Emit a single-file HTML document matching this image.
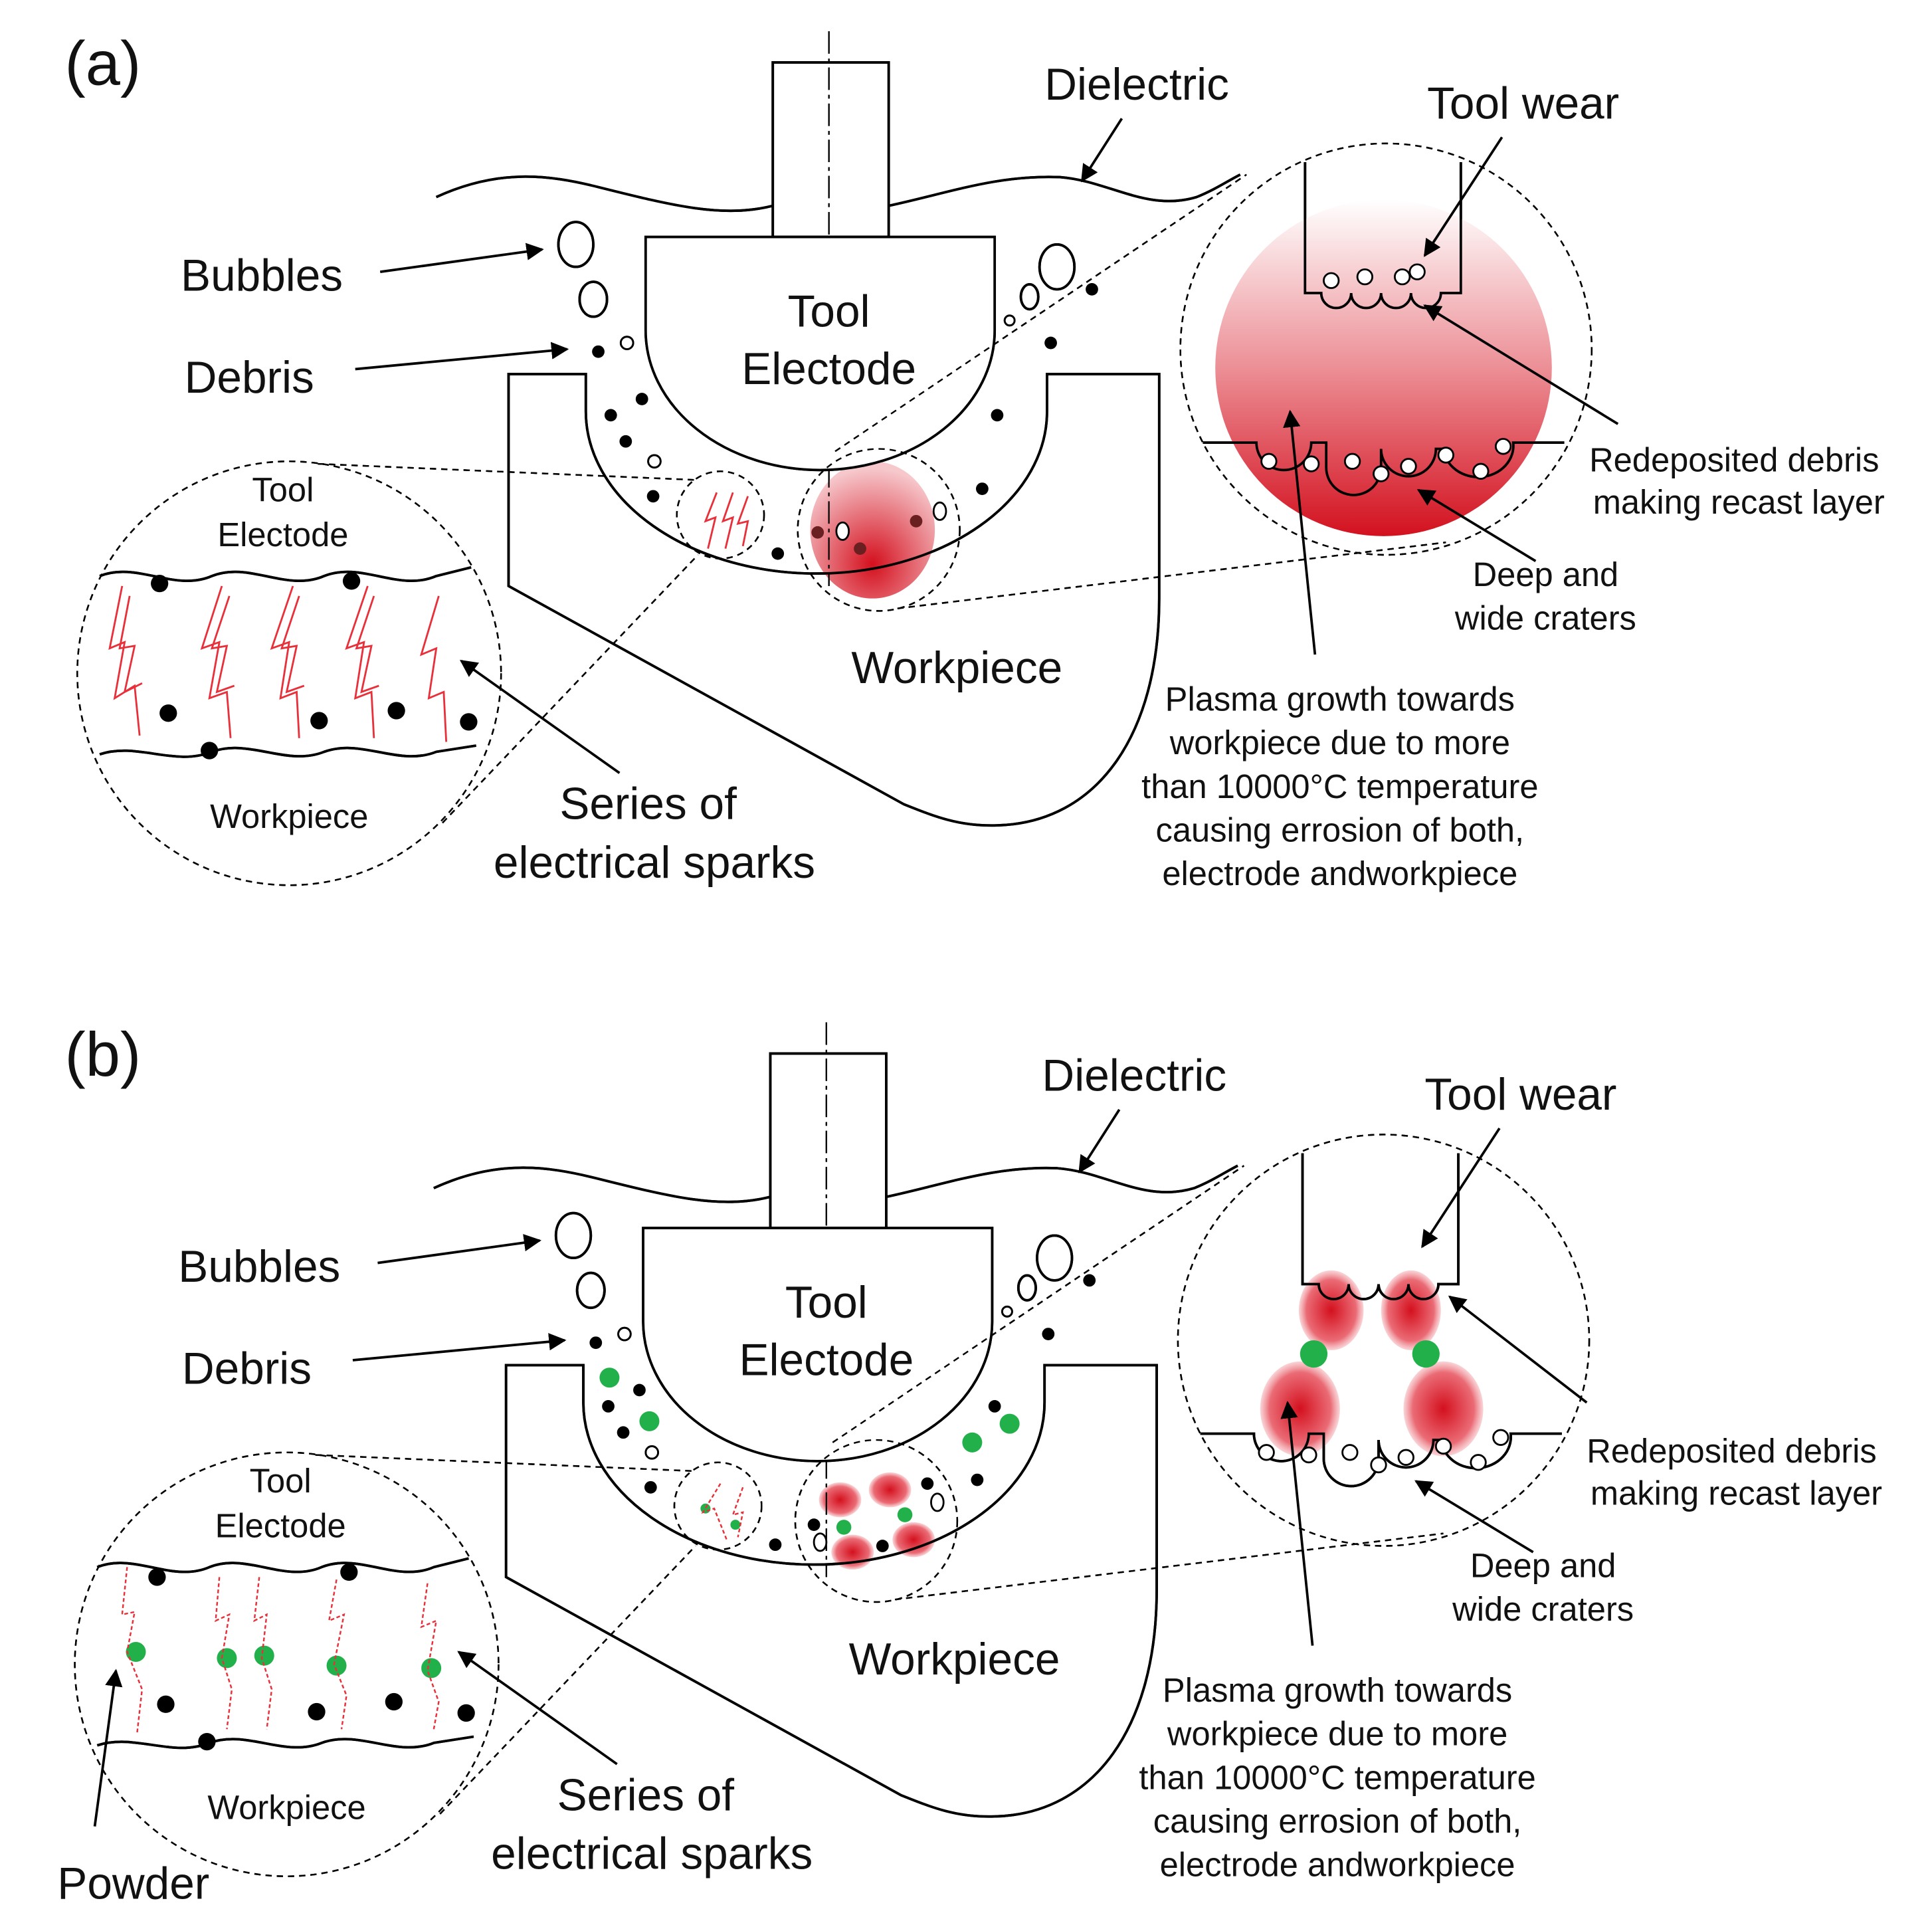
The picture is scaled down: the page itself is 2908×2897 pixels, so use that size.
<!DOCTYPE html>
<html><head><meta charset="utf-8"><style>
html,body{margin:0;padding:0;background:#fff;}
svg{display:block;}
text{font-family:"Liberation Sans",Arial,sans-serif;fill:#111;}
</style></head><body>
<svg width="2908" height="2897" viewBox="0 0 1550 1544" xmlns="http://www.w3.org/2000/svg">
<defs>
<marker id="ah" viewBox="0 0 10 10" refX="9" refY="5" markerWidth="7" markerHeight="7" orient="auto-start-reverse"><path d="M0,0 L10,5 L0,10 Z" fill="#000"/></marker>
<radialGradient id="rs" cx="0.5" cy="0.75" r="0.7"><stop offset="0" stop-color="#d4101e"/><stop offset="1" stop-color="#f6c8cc"/></radialGradient>
<linearGradient id="rb" x1="0" y1="0" x2="0" y2="1"><stop offset="0" stop-color="#ffffff"/><stop offset="0.5" stop-color="#ec8f96"/><stop offset="1" stop-color="#d3111f"/></linearGradient>
<radialGradient id="blob" cx="0.5" cy="0.5" r="0.55"><stop offset="0" stop-color="#d4101e"/><stop offset="0.7" stop-color="#ea6b75"/><stop offset="1" stop-color="#fde9ea" stop-opacity="0.6"/></radialGradient>
<g id="common" fill="none" stroke="#000" stroke-width="2">
  <line x1="665" y1="25" x2="665" y2="470" stroke-dasharray="18,4,3,4" stroke-width="1.2"/>
  <rect x="620" y="50" width="93" height="140" fill="none"/>
  <path d="M350,158 C400,135 440,140 480,150 C540,165 580,175 620,165 M713,165 C760,155 800,140 850,142 C890,145 920,170 960,158 C975,152 985,145 995,140"/>
  <path d="M518,190 H798 V265 A140,112 0 0 1 518,265 Z" fill="#fff"/>
  <path d="M408,300 H470 V330 A185,130 0 0 0 840,330 V300 H930 V480 C930,590 880,660 800,662 C770,663 750,655 725,645 L408,470 Z"/>
  <ellipse cx="462" cy="196" rx="14" ry="18"/><ellipse cx="476" cy="240" rx="11" ry="14"/>
  <circle cx="503" cy="275" r="5" stroke-width="1.5"/><circle cx="525" cy="370" r="5" stroke-width="1.5"/>
  <ellipse cx="848" cy="214" rx="14" ry="18"/><ellipse cx="826" cy="238" rx="7" ry="10"/><circle cx="810" cy="257" r="4" stroke-width="1.5"/>
  <g stroke="#000" stroke-width="1.3" stroke-dasharray="5,4">
    <circle cx="578" cy="413" r="35"/><circle cx="705" cy="425" r="65"/>
    <circle cx="232" cy="540" r="170"/><circle cx="1112" cy="280" r="165"/>
    <line x1="255" y1="372" x2="560" y2="385"/><line x1="355" y1="660" x2="560" y2="445"/>
    <line x1="670" y1="362" x2="1000" y2="140"/><line x1="720" y1="488" x2="1160" y2="435"/>
  </g>
  <path d="M80,462 C110,450 140,475 170,462 C200,450 230,475 260,462 C290,450 320,475 350,462 L378,455"/>
  <path d="M80,605 C110,595 140,615 170,603 C200,592 230,615 260,603 C290,592 320,615 350,603 L382,598"/>
  <path d="M1047,130 V235 H1060 A12,12 0 0 0 1084,235 A12,12 0 0 0 1108,235 A12,12 0 0 0 1132,235 A12,12 0 0 0 1156,235 H1172 V130"/>
  <path d="M965,355 H1008 A22,22 0 0 0 1052,355 H1064 V375 A22,22 0 0 0 1108,375 V360 A22,22 0 0 0 1152,360 H1158 A28,25 0 0 0 1214,355 H1255"/>
</g>
</defs>

<!-- Panel A -->
<text x="52" y="68" font-size="50">(a)</text>
<use href="#common"/>
<ellipse cx="700" cy="425" rx="50" ry="55" fill="url(#rs)"/>
<circle cx="1110" cy="295" r="135" fill="url(#rb)"/>
<use href="#common"/>
<g fill="#000">
<circle cx="480" cy="282" r="5"/><circle cx="490" cy="333" r="5"/><circle cx="515" cy="320" r="5"/><circle cx="502" cy="354" r="5"/><circle cx="524" cy="398" r="5"/>
<circle cx="624" cy="444" r="5"/><circle cx="788" cy="392" r="5"/><circle cx="800" cy="333" r="5"/><circle cx="843" cy="275" r="5"/><circle cx="876" cy="232" r="5"/>
<circle cx="128" cy="468" r="7"/><circle cx="282" cy="466" r="7"/><circle cx="135" cy="572" r="7"/><circle cx="168" cy="602" r="7"/><circle cx="256" cy="578" r="7"/><circle cx="318" cy="570" r="7"/><circle cx="376" cy="579" r="7"/>
</g>
<g fill="#6a2020"><circle cx="656" cy="427" r="5"/><circle cx="690" cy="440" r="5"/><circle cx="735" cy="418" r="5"/></g>
<g fill="#fff" stroke="#000" stroke-width="1.5"><ellipse cx="676" cy="426" rx="5" ry="7"/><ellipse cx="754" cy="410" rx="5" ry="7"/>
<circle cx="1068" cy="225" r="6"/><circle cx="1095" cy="222" r="6"/><circle cx="1125" cy="222" r="6"/><circle cx="1137" cy="218" r="6"/>
<circle cx="1018" cy="370" r="6"/><circle cx="1052" cy="372" r="6"/><circle cx="1085" cy="370" r="6"/><circle cx="1108" cy="380" r="6"/><circle cx="1130" cy="374" r="6"/><circle cx="1160" cy="365" r="6"/><circle cx="1188" cy="378" r="6"/><circle cx="1206" cy="358" r="6"/></g>
<g fill="none" stroke="#e8303a" stroke-width="1.5">
<path d="M98,470 L88,520 L100,515 L92,560 L108,550 L112,590 M104,478 L96,520 L108,518 L100,555 L114,548"/>
<path d="M178,470 L162,520 L176,515 L168,560 L182,555 L185,592 M184,478 L170,520 L182,518 L174,555 L188,550"/>
<path d="M235,470 L218,520 L232,515 L225,560 L238,555 L240,592 M240,478 L226,520 L238,518 L230,555 L244,550"/>
<path d="M295,470 L278,520 L292,515 L285,560 L298,555 L300,592 M300,478 L286,520 L298,518 L290,555 L304,550"/>
<path d="M352,478 L338,525 L350,520 L344,560 L356,555 L358,595"/>
<path d="M575,395 L566,418 L574,415 L568,440 M588,395 L580,418 L588,415 L582,440 M600,398 L592,420 L600,418 L596,438"/>
</g>
<g stroke="#000" stroke-width="2" fill="none" marker-end="url(#ah)">
<line x1="900" y1="95" x2="868" y2="145"/>
<line x1="305" y1="218" x2="435" y2="200"/>
<line x1="285" y1="296" x2="455" y2="280"/>
<line x1="1205" y1="110" x2="1143" y2="205"/>
<line x1="1298" y1="340" x2="1143" y2="245"/>
<line x1="1232" y1="450" x2="1138" y2="393"/>
<line x1="1055" y1="525" x2="1035" y2="330"/>
<line x1="497" y1="620" x2="370" y2="530"/>
</g>
<g font-size="36">
<text x="838" y="80">Dielectric</text><text x="1145" y="95">Tool wear</text>
<text x="145" y="233">Bubbles</text><text x="148" y="315">Debris</text>
<text x="665" y="262" text-anchor="middle">Tool</text><text x="665" y="308" text-anchor="middle">Electode</text>
<text x="683" y="548">Workpiece</text>
<text x="520" y="657" text-anchor="middle">Series of</text><text x="525" y="704" text-anchor="middle">electrical sparks</text>
</g>
<g font-size="27">
<text x="227" y="402" text-anchor="middle">Tool</text><text x="227" y="438" text-anchor="middle">Electode</text>
<text x="232" y="664" text-anchor="middle">Workpiece</text>
<text x="1275" y="378">Redeposited debris</text><text x="1278" y="412">making recast layer</text>
<text x="1240" y="470" text-anchor="middle">Deep and</text><text x="1240" y="505" text-anchor="middle">wide craters</text>
<text x="1075" y="570" text-anchor="middle">Plasma growth towards</text>
<text x="1075" y="605" text-anchor="middle">workpiece due to more</text>
<text x="1075" y="640" text-anchor="middle">than 10000°C temperature</text>
<text x="1075" y="675" text-anchor="middle">causing errosion of both,</text>
<text x="1075" y="710" text-anchor="middle">electrode andworkpiece</text>
</g>

<!-- Panel B -->
<g transform="translate(-2,795)">
<text x="54" y="68" font-size="50">(b)</text>
<use href="#common"/>
<g fill="url(#blob)">
<ellipse cx="676" cy="408" rx="17" ry="14"/><ellipse cx="716" cy="400" rx="17" ry="14"/>
<ellipse cx="686" cy="450" rx="17" ry="14"/><ellipse cx="735" cy="440" rx="17" ry="14"/>
<ellipse cx="1070" cy="256" rx="26" ry="32"/><ellipse cx="1134" cy="256" rx="24" ry="32"/>
<ellipse cx="1045" cy="335" rx="32" ry="38"/><ellipse cx="1160" cy="335" rx="32" ry="38"/>
</g>
<use href="#common"/>
<g fill="#22b04a">
<circle cx="491" cy="310" r="8"/><circle cx="523" cy="345" r="8"/><circle cx="782" cy="362" r="8"/><circle cx="812" cy="347" r="8"/>
<circle cx="679" cy="430" r="6"/><circle cx="728" cy="420" r="6"/><circle cx="568" cy="415" r="4"/><circle cx="592" cy="428" r="4"/>
<circle cx="1056" cy="291" r="11"/><circle cx="1146" cy="291" r="11"/>
<circle cx="111" cy="530" r="8"/><circle cx="184" cy="535" r="8"/><circle cx="214" cy="533" r="8"/><circle cx="272" cy="541" r="8"/><circle cx="348" cy="543" r="8"/>
</g>
<g fill="#000">
<circle cx="480" cy="282" r="5"/><circle cx="490" cy="333" r="5"/><circle cx="515" cy="320" r="5"/><circle cx="502" cy="354" r="5"/><circle cx="524" cy="398" r="5"/>
<circle cx="624" cy="444" r="5"/><circle cx="786" cy="392" r="5"/><circle cx="800" cy="333" r="5"/><circle cx="843" cy="275" r="5"/><circle cx="876" cy="232" r="5"/>
<circle cx="655" cy="428" r="5"/><circle cx="710" cy="445" r="5"/><circle cx="746" cy="395" r="5"/>
<circle cx="128" cy="470" r="7"/><circle cx="282" cy="466" r="7"/><circle cx="135" cy="572" r="7"/><circle cx="168" cy="602" r="7"/><circle cx="256" cy="578" r="7"/><circle cx="318" cy="570" r="7"/><circle cx="376" cy="579" r="7"/>
</g>
<g fill="#fff" stroke="#000" stroke-width="1.5"><ellipse cx="660" cy="442" rx="5" ry="7"/><ellipse cx="754" cy="410" rx="5" ry="7"/>
<circle cx="1018" cy="370" r="6"/><circle cx="1052" cy="372" r="6"/><circle cx="1085" cy="370" r="6"/><circle cx="1108" cy="380" r="6"/><circle cx="1130" cy="374" r="6"/><circle cx="1160" cy="365" r="6"/><circle cx="1188" cy="378" r="6"/><circle cx="1206" cy="358" r="6"/></g>
<g fill="none" stroke="#e8303a" stroke-width="1.3" stroke-dasharray="3,2">
<path d="M104,462 L100,500 L110,498 L104,530 L116,560 L112,595"/>
<path d="M178,470 L175,505 L186,500 L180,535 L188,560 L184,592"/>
<path d="M210,470 L206,505 L216,500 L212,535 L220,560 L216,592"/>
<path d="M272,472 L266,505 L278,500 L270,540 L280,565 L276,592"/>
<path d="M345,475 L340,510 L352,505 L345,545 L354,570 L350,592"/>
<path d="M580,395 L566,418 L575,415 L585,440 M598,398 L590,420 L598,418 L594,438"/>
</g>
<g stroke="#000" stroke-width="2" fill="none" marker-end="url(#ah)">
<line x1="900" y1="95" x2="868" y2="145"/>
<line x1="305" y1="218" x2="435" y2="200"/>
<line x1="285" y1="296" x2="455" y2="280"/>
<line x1="1205" y1="110" x2="1143" y2="205"/>
<line x1="1275" y1="330" x2="1165" y2="245"/>
<line x1="1232" y1="450" x2="1138" y2="393"/>
<line x1="1055" y1="525" x2="1035" y2="330"/>
<line x1="497" y1="620" x2="370" y2="530"/>
<line x1="78" y1="670" x2="95" y2="545"/>
</g>
<g font-size="36">
<text x="838" y="80">Dielectric</text><text x="1145" y="95">Tool wear</text>
<text x="145" y="233">Bubbles</text><text x="148" y="315">Debris</text>
<text x="665" y="262" text-anchor="middle">Tool</text><text x="665" y="308" text-anchor="middle">Electode</text>
<text x="683" y="548">Workpiece</text>
<text x="520" y="657" text-anchor="middle">Series of</text><text x="525" y="704" text-anchor="middle">electrical sparks</text>
<text x="48" y="728">Powder</text>
</g>
<g font-size="27">
<text x="227" y="402" text-anchor="middle">Tool</text><text x="227" y="438" text-anchor="middle">Electode</text>
<text x="232" y="664" text-anchor="middle">Workpiece</text>
<text x="1275" y="378">Redeposited debris</text><text x="1278" y="412">making recast layer</text>
<text x="1240" y="470" text-anchor="middle">Deep and</text><text x="1240" y="505" text-anchor="middle">wide craters</text>
<text x="1075" y="570" text-anchor="middle">Plasma growth towards</text>
<text x="1075" y="605" text-anchor="middle">workpiece due to more</text>
<text x="1075" y="640" text-anchor="middle">than 10000°C temperature</text>
<text x="1075" y="675" text-anchor="middle">causing errosion of both,</text>
<text x="1075" y="710" text-anchor="middle">electrode andworkpiece</text>
</g>
</g>
</svg>
</body></html>
